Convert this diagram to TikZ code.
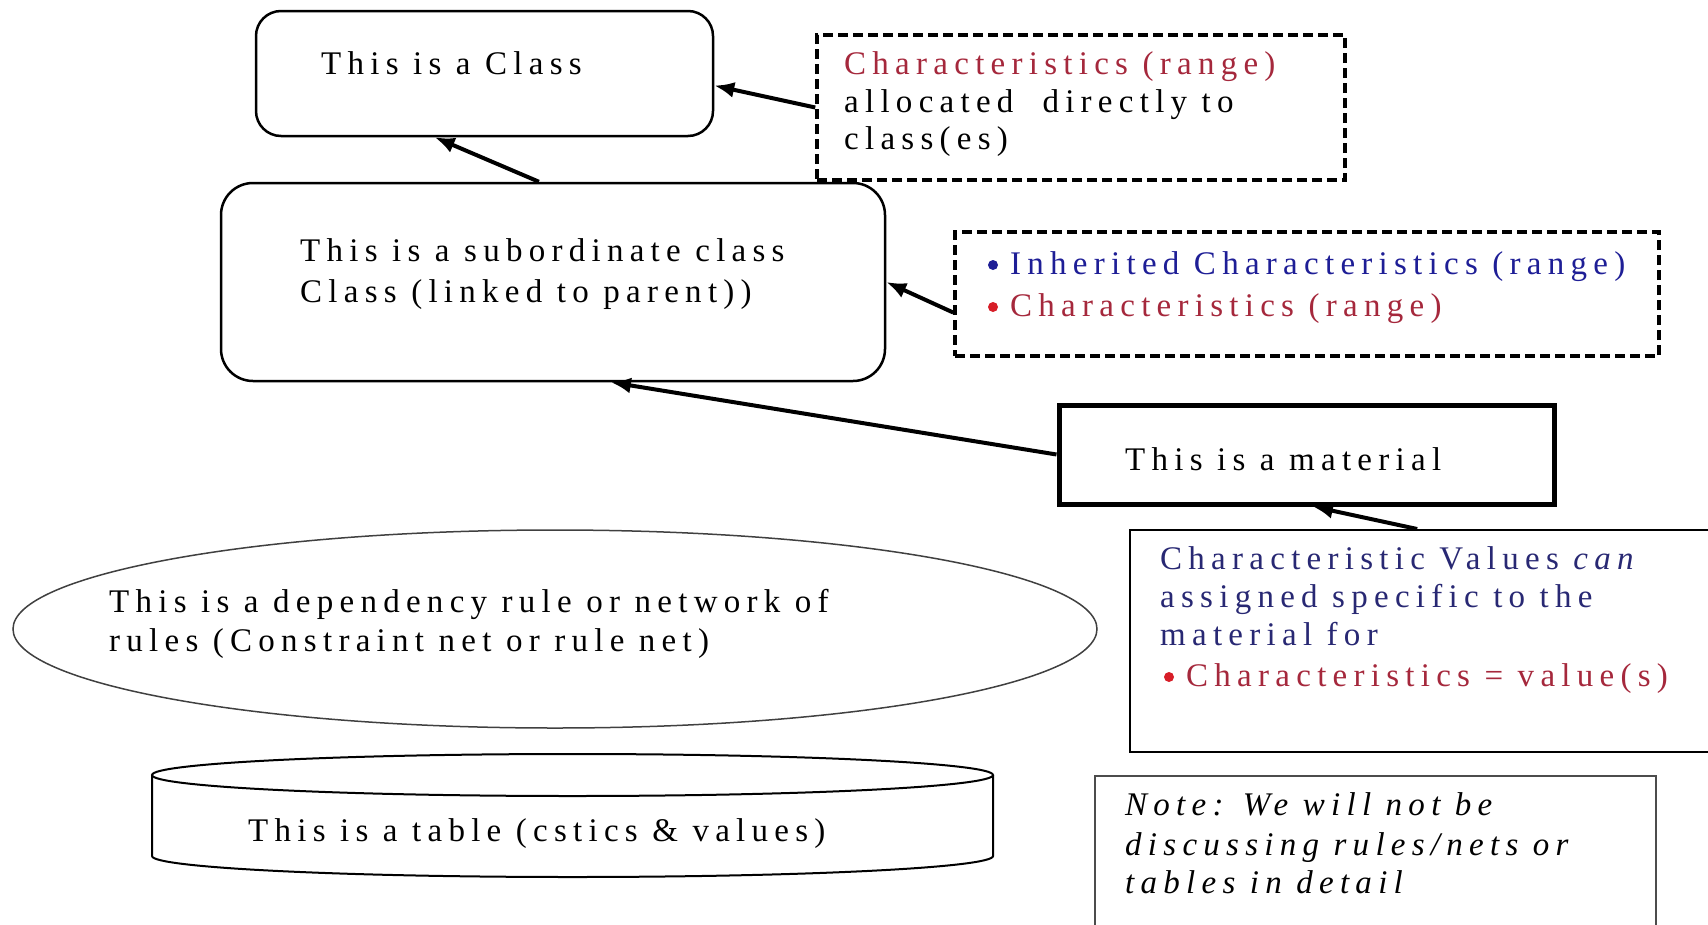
\documentclass[tikz,border=0pt]{standalone}
\usepackage{fontspec}
\setmainfont{Liberation Serif}[LetterSpace=19]
\usepackage{xcolor}
\usetikzlibrary{arrows.meta,calc,shapes.geometric}

\definecolor{charred}{RGB}{165,40,60}
\definecolor{dotred}{RGB}{215,30,40}
\definecolor{inhblue}{RGB}{30,30,150}
\definecolor{valblue}{RGB}{40,40,115}

\tikzset{
    box/.style={draw,inner sep=0pt,line width=2.5pt},
    dashbox/.style={draw,inner sep=0pt,line width=3.5pt,dash pattern=on 10pt off 5pt},
    txt/.style={anchor=base west,inner sep=0pt},
    conn/.style={line width=4pt,-{Latex[length=20pt,width=16pt]}}
}

\begin{document}
\begin{tikzpicture}[x=1pt,y=-1pt,font=\fontsize{33}{37}\selectfont]
        \useasboundingbox (0,0) rectangle (1708,924);

        % draw the class boxes
        \node[box,rounded corners=25pt,minimum width=457pt,minimum height=125pt] (cls) at (484.5,73.5) {};
        \node[box,rounded corners=32pt,minimum width=664pt,minimum height=198pt] (sub) at (553,282) {};
        \node[box,line width=5pt,minimum width=495pt,minimum height=99pt] (mat) at (1306.5,454.5) {};

        % draw the dashed characteristic boxes
        \node[dashbox,minimum width=528pt,minimum height=145pt] (chr) at (1081,107.5) {};
        \node[dashbox,minimum width=704pt,minimum height=124pt] (inh) at (1307,294) {};

        % draw the value and note boxes
        \node[box,line width=2pt,minimum width=590pt,minimum height=222pt] (val) at (1425,641) {};
        \node[box,line width=2pt,draw=black!70,minimum width=561pt,minimum height=164pt] (note) at (1375.5,858) {};

        % draw the rule net and the table
        \node[draw,ellipse,line width=1.5pt,draw=black!75,minimum width=1084pt,minimum height=198pt] (rule) at (555,629) {};
        \draw[line width=2pt] (152,775) -- (152,856) arc[start angle=180,end angle=0,x radius=420.5,y radius=21] -- (993,775);
        \draw[line width=2pt] (572.5,775) ellipse[x radius=420.5,y radius=21];

        % black text lines
        \foreach \n/\x/\y/\txt in {
            t1/321/74/This is a Class,
            t2/844/112/allocated\ \ directly to,
            t3/844/149/class(es),
            t4/300/261/This is a subordinate class,
            t5/300/302/Class (linked to parent)),
            t6/1125/470/This is a material,
            t7/109/612/This is a dependency rule or network of,
            t8/109/651/rules (Constraint net or rule net),
            t9/248/841/This is a table (cstics \& values)}
                \node[txt] (\n) at (\x,\y) {\txt};

        % coloured text lines
        \node[txt,text=charred] (c1) at (844,74) {Characteristics (range)};
        \node[txt,text=inhblue] (c2) at (1010,274) {Inherited Characteristics (range)};
        \node[txt,text=charred] (c3) at (1010,316) {Characteristics (range)};
        \foreach \n/\y/\txt in {
            v1/569/Characteristic Values \textit{can},
            v2/607/assigned specific to the,
            v3/645/material for}
                \node[txt,text=valblue] (\n) at (1160,\y) {\txt};
        \node[txt,text=charred] (v4) at (1186,686) {Characteristics = value(s)};

        % the bullets
        \fill[inhblue] (993,265) circle(5);
        \fill[dotred] (993,307) circle(5);
        \fill[dotred] (1169,677) circle(5);

        % the note, in italics
        \foreach \n/\y/\txt in {
            n1/815/{Note: We will not be},
            n2/855/{discussing rules/nets or},
            n3/893/{tables in detail}}
                \node[txt,font=\fontsize{33}{37}\selectfont\itshape] (\n) at (1125,\y) {\txt};

        % draw the links
        \draw[conn] (sub.98) -- (cls.232);
        \draw[conn] (chr.west) -- (cls.-3);
        \draw[conn] (inh.183) -- (sub.east);
        \draw[conn] (mat.west) -- (sub.-60);
        \draw[conn] (val.94) -- (mat.-83);
\end{tikzpicture}
\end{document}
